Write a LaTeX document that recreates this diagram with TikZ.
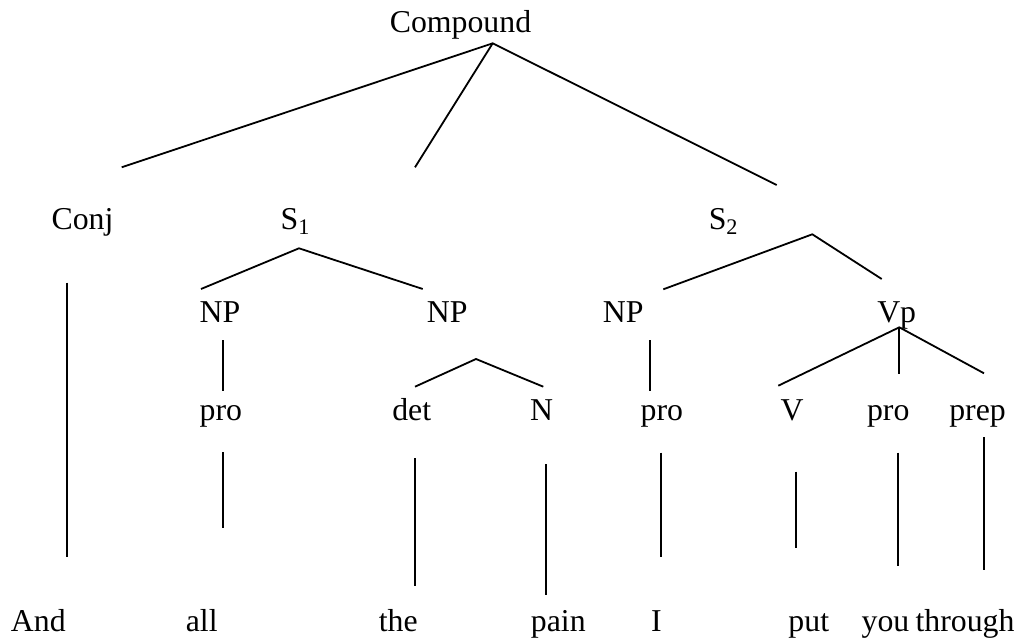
\documentclass[tikz,border=0pt]{standalone}
\usepackage{fontspec}
\setmainfont{Liberation Serif}
\usepackage{tikz}

\tikzset{
  lbl/.style={anchor=base, inner sep=0pt, font=\fontsize{15.9}{18}\selectfont},
  branch/.style={line width=0.9pt}
}

\begin{document}
\begin{tikzpicture}[x=0.5pt, y=-0.5pt]
\useasboundingbox (0,0) rectangle (1021,641);

% labels
\node[lbl] (compound) at (460.5,33) {Compound};
\node[lbl] (conj) at (82.5,229.3) {Conj};
\node[lbl] (sone) at (295.5,229.3) {S\textsubscript{1}};
\node[lbl] (stwo) at (723.7,229.3) {S\textsubscript{2}};

\node[lbl] (npa) at (220,322.3) {NP};
\node[lbl] (npb) at (447.2,322.3) {NP};
\node[lbl] (npc) at (623.3,322.3) {NP};
\node[lbl] (vp) at (896.7,322.3) {Vp};

\node[lbl] (proa) at (220.8,420) {pro};
\node[lbl] (det) at (411.7,420) {det};
\node[lbl] (n) at (541.7,420) {N};
\node[lbl] (prob) at (661.8,420) {pro};
\node[lbl] (v) at (792.2,420) {V};
\node[lbl] (proc) at (888.2,420) {pro};
\node[lbl] (prep) at (977.5,420) {prep};

\node[lbl] (wand) at (38.3,631.7) {And};
\node[lbl] (wall) at (201.7,631.7) {all};
\node[lbl] (wthe) at (398.3,631.7) {the};
\node[lbl] (wpain) at (558.3,631.7) {pain};
\node[lbl] (wi) at (656.3,631.7) {I};
\node[lbl] (wput) at (808.8,631.7) {put};
\node[lbl] (wyou) at (885.5,631.7) {you};
\node[lbl] (wthrough) at (965,631.7) {through};

% branch ends
\coordinate (ctop) at (492.7,43.3);
\coordinate (cl) at (121.7,167.3);
\coordinate (cm) at (415,167.3);
\coordinate (cr) at (776.7,185);

\coordinate (s1top) at (299,248.3);
\coordinate (s1l) at (201,289);
\coordinate (s1r) at (422.7,289);

\coordinate (s2top) at (812.3,234.3);
\coordinate (s2l) at (663.3,289.3);
\coordinate (s2r) at (881.7,279);

\coordinate (nptop) at (476,359);
\coordinate (npl) at (415,386.7);
\coordinate (npr) at (543.3,386.7);

\coordinate (vptop) at (899.3,327.3);
\coordinate (vpl) at (778.3,385.7);
\coordinate (vpm) at (899.3,374);
\coordinate (vpr) at (984,373.3);

\draw[branch] (cl) -- (ctop) -- (cr);
\draw[branch] (ctop) -- (cm);
\draw[branch] (s1l) -- (s1top) -- (s1r);
\draw[branch] (s2l) -- (s2top) -- (s2r);
\draw[branch] (npl) -- (nptop) -- (npr);
\draw[branch] (vpl) -- (vptop) -- (vpr);
\draw[branch] (vptop) -- (vpm);

% vertical stems
\draw[branch] (66.7,282.7) -- (66.7,556.7);
\draw[branch] (223,340) -- (223,390.7);
\draw[branch] (649.7,340) -- (649.7,390.7);
\draw[branch] (223.3,452.3) -- (223.3,527.7);
\draw[branch] (415,458.3) -- (415,586);
\draw[branch] (546.3,464.3) -- (546.3,595);
\draw[branch] (661,452.7) -- (661,557.3);
\draw[branch] (795.7,471.7) -- (795.7,548);
\draw[branch] (898.3,452.7) -- (898.3,565.7);
\draw[branch] (984.3,437.3) -- (984.3,570);

\end{tikzpicture}
\end{document}
